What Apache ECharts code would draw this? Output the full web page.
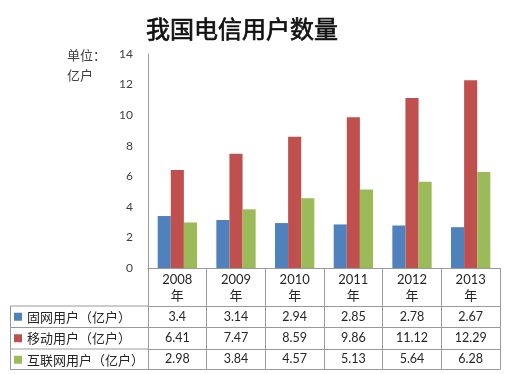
<!DOCTYPE html>
<html><head><meta charset="utf-8">
<script src="https://cdn.jsdelivr.net/npm/echarts@6/dist/echarts.min.js"></script>
<style>html,body{margin:0;padding:0;background:#fff}#c{width:507px;height:374px}</style>
</head><body><div id="c"></div>
<script>
var years = ['2008', '2009', '2010', '2011', '2012', '2013'];
var seriesNames = ['固网用户（亿户）', '移动用户（亿户）', '互联网用户（亿户）'];
var fixedUsers = [3.4, 3.14, 2.94, 2.85, 2.78, 2.67];
var mobileUsers = [6.41, 7.47, 8.59, 9.86, 11.12, 12.29];
var internetUsers = [2.98, 3.84, 4.57, 5.13, 5.64, 6.28];
var yTicks = [0, 2, 4, 6, 8, 10, 12, 14];
var colors = ['#4F81BD', '#C0504D', '#9BBB59'];
var seriesData = [fixedUsers, mobileUsers, internetUsers];

var FONT = 'Lato, "Noto Sans CJK SC", sans-serif';
var CJK = '"Noto Sans CJK SC", sans-serif';
var LINE = '#9a9a9a';
var G = {left: 148, right: 7, top: 54, bottom: 106};
var axisY = 374 - G.bottom;           // 268
var headerH = 38;
var rowH = [21.5, 21.5, 20.5];
var tableLeft = 10.5;

var xAxes = [{
  type: 'category', gridIndex: 0, position: 'bottom',
  data: years.map(function (y) { return y + '\n年'; }),
  axisLine: {show: true, lineStyle: {color: LINE, width: 1}},
  axisTick: {show: true, length: headerH, lineStyle: {color: LINE}},
  axisLabel: {interval: 0, margin: 3.5, fontSize: 13, lineHeight: 16, color: '#262626', fontFamily: FONT}
}];
var off = headerH;
seriesData.forEach(function (arr, i) {
  xAxes.push({
    type: 'category', gridIndex: 0, position: 'bottom', offset: off,
    data: arr.map(String),
    axisLine: {show: true, lineStyle: {color: LINE, width: 1}},
    axisTick: {show: true, length: rowH[i], lineStyle: {color: LINE}},
    axisLabel: {interval: 0, margin: (rowH[i] - 14) / 2, fontSize: 12.5, lineHeight: 14, color: '#262626', fontFamily: FONT}
  });
  off += rowH[i];
});
xAxes.push({
  type: 'category', gridIndex: 0, position: 'bottom', offset: off,
  data: years,
  axisLine: {show: true, lineStyle: {color: LINE, width: 1}},
  axisTick: {show: false}, axisLabel: {show: false}
});

// left part of the table (row-label column borders)
var graphics = [];
var yy = axisY + headerH;
var ys = [yy];
rowH.forEach(function (h) { yy += h; ys.push(yy); });
ys.forEach(function (y) {
  graphics.push({type: 'line', shape: {x1: tableLeft, y1: y, x2: G.left, y2: y}, style: {stroke: LINE, lineWidth: 1}, silent: true});
});
graphics.push({type: 'line', shape: {x1: tableLeft, y1: ys[0], x2: tableLeft, y2: ys[ys.length - 1]}, style: {stroke: LINE, lineWidth: 1}, silent: true});
graphics.push({type: 'text', left: 67, top: 45, style: {text: '单位：\n亿户', fontSize: 13, lineHeight: 20, fill: '#404040', fontFamily: CJK}});

var chart = echarts.init(document.getElementById('c'), null, {renderer: 'canvas'});
chart.setOption({
  animation: false,
  color: colors,
  title: {
    text: '我国电信用户数量', left: 141, top: 12,
    textStyle: {fontSize: 24, fontWeight: 'normal', color: '#111', fontFamily: CJK,
      textBorderColor: '#111', textBorderWidth: 0.7}
  },
  legend: {
    data: seriesNames, orient: 'vertical', left: 14, top: axisY + headerH, padding: 0,
    itemGap: 0, itemWidth: 8, itemHeight: 8, icon: 'rect', selectedMode: false,
    textStyle: {fontSize: 13, lineHeight: 21.5, color: '#262626', fontFamily: CJK}
  },
  grid: {left: G.left, right: G.right, top: G.top, bottom: G.bottom, containLabel: false},
  xAxis: xAxes,
  yAxis: {
    type: 'value', min: yTicks[0], max: yTicks[yTicks.length - 1], interval: yTicks[1] - yTicks[0],
    axisLine: {show: true, lineStyle: {color: LINE}},
    axisTick: {show: false}, splitLine: {show: false},
    axisLabel: {margin: 15, fontSize: 12, color: '#404040', fontFamily: FONT}
  },
  graphic: graphics,
  series: seriesNames.map(function (n, i) {
    return {name: n, type: 'bar', xAxisIndex: 0, data: seriesData[i], barGap: '0%', barCategoryGap: '33%', itemStyle: {color: colors[i]}};
  })
});
</script></body></html>
